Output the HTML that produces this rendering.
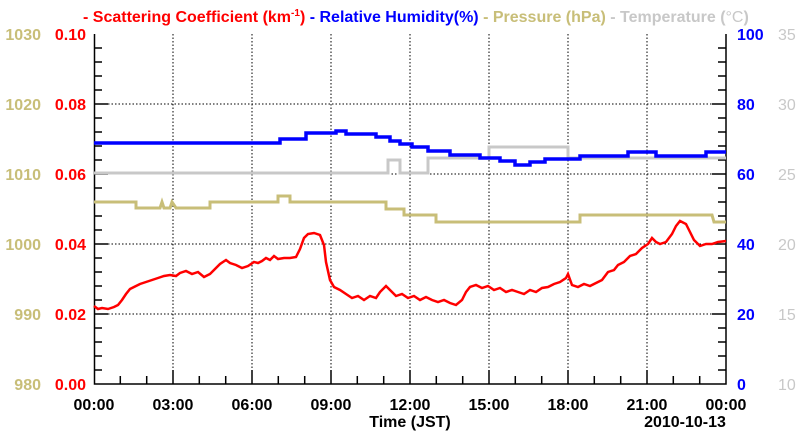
<!DOCTYPE html>
<html><head><meta charset="utf-8"><style>
html,body{margin:0;padding:0;background:#fff;}
svg{display:block;font-family:"Liberation Sans",sans-serif;font-weight:bold;}
</style></head><body>
<svg width="800" height="434" viewBox="0 0 800 434">
<g stroke="#000" stroke-width="1" stroke-dasharray="1.5,2">
<line x1="173" y1="34" x2="173" y2="384"/><line x1="252" y1="34" x2="252" y2="384"/><line x1="331" y1="34" x2="331" y2="384"/><line x1="410" y1="34" x2="410" y2="384"/><line x1="489" y1="34" x2="489" y2="384"/><line x1="568" y1="34" x2="568" y2="384"/><line x1="647" y1="34" x2="647" y2="384"/>
<line x1="94" y1="104" x2="726" y2="104"/><line x1="94" y1="174" x2="726" y2="174"/><line x1="94" y1="244" x2="726" y2="244"/><line x1="94" y1="314" x2="726" y2="314"/>
</g>
<g stroke="#000" stroke-width="1.5" fill="none">
<path d="M94.5,34 V384 H726 V34"/>
<path d="M94,48h8M94,62h8M94,76h8M94,90h8M94,104h14M94,118h8M94,132h8M94,146h8M94,160h8M94,174h14M94,188h8M94,202h8M94,216h8M94,230h8M94,244h14M94,258h8M94,272h8M94,286h8M94,300h8M94,314h14M94,328h8M94,342h8M94,356h8M94,370h8"/>
<path d="M726,48h-8M726,62h-8M726,76h-8M726,90h-8M726,104h-14M726,118h-8M726,132h-8M726,146h-8M726,160h-8M726,174h-14M726,188h-8M726,202h-8M726,216h-8M726,230h-8M726,244h-14M726,258h-8M726,272h-8M726,286h-8M726,300h-8M726,314h-14M726,328h-8M726,342h-8M726,356h-8M726,370h-8"/>
<path d="M120.3,384v-8M146.7,384v-8M173,384v-14M199.3,384v-8M225.7,384v-8M252,384v-14M278.3,384v-8M304.7,384v-8M331,384v-14M357.3,384v-8M383.7,384v-8M410,384v-14M436.3,384v-8M462.7,384v-8M489,384v-14M515.3,384v-8M541.7,384v-8M568,384v-14M594.3,384v-8M620.7,384v-8M647,384v-14M673.3,384v-8M699.7,384v-8"/>
</g>
<polyline fill="none" stroke="#c8c8c8" stroke-width="3" points="94,173 388,173 388,160 400,160 400,173 428,173 428,158 489,158 489,147 568,147 568,158 726,158"/>
<polyline fill="none" stroke="#c8be78" stroke-width="3" points="94,202 136,202 136,208 160,208 162,202 164,208 170,208 172,202 176,208 210,208 210,202 278,202 278,196 290,196 290,202 386,202 386,209 404,209 404,215 436,215 436,222 580,222 580,215 712,215 714,222 726,222"/>
<polyline fill="none" stroke="#0000ff" stroke-width="3.5" points="94,143 280,143 280,139 306,139 306,133 336,133 336,131 346,131 346,134 376,134 376,137 390,137 390,141 400,141 400,144 412,144 412,147 428,147 428,151 450,151 450,155 480,155 480,158 500,158 500,161 515,161 515,165 530,165 530,162 545,162 545,159 580,159 580,156 628,156 628,152 656,152 656,156 706,156 706,152 726,152"/>
<polyline fill="none" stroke="#ff0000" stroke-width="2.5" points="94,306 98,309 102,308 108,309 114,307 118,305 122,300 126,294 130,289 134,287 140,284 146,282 152,280 158,278 164,276 170,275 176,276 180,273 186,271 192,274 198,272 204,277 210,274 214,270 220,264 226,260 230,263 236,265 242,268 248,266 254,262 258,263 262,261 266,258 270,260 274,256 278,259 284,258 290,258 296,257 300,249 304,238 308,234 314,233 320,235 324,245 326,262 330,280 334,287 340,290 346,294 352,298 358,296 364,300 370,296 376,298 380,292 386,286 390,290 396,296 402,294 408,298 414,296 420,300 426,297 432,300 438,302 444,300 450,303 456,305 462,300 466,292 470,287 476,285 482,288 488,286 494,290 500,288 506,292 512,290 518,292 524,294 530,290 536,292 542,288 548,287 554,284 560,282 566,278 568,274 572,285 578,287 584,284 590,286 596,283 602,280 608,272 614,270 618,265 624,262 630,256 636,254 642,248 648,244 652,238 656,242 660,244 666,242 672,234 676,226 680,221 686,224 690,232 694,240 700,246 706,244 712,244 718,242 726,241"/>
<g font-size="16" text-anchor="end">
<g fill="#c8be78"><text x="41" y="40">1030</text><text x="41" y="110">1020</text><text x="41" y="180">1010</text><text x="41" y="250">1000</text><text x="41" y="320">990</text><text x="41" y="390">980</text></g>
<g fill="#ff0000"><text x="86" y="40">0.10</text><text x="86" y="110">0.08</text><text x="86" y="180">0.06</text><text x="86" y="250">0.04</text><text x="86" y="320">0.02</text><text x="86" y="390">0.00</text></g>
</g>
<g font-size="16" fill="#0000ff"><text x="737" y="40">100</text><text x="737" y="110">80</text><text x="737" y="180">60</text><text x="737" y="250">40</text><text x="737" y="320">20</text><text x="737" y="390">0</text></g>
<g font-size="16" fill="#c8c8c8" font-weight="normal"><text x="778" y="40">35</text><text x="778" y="110">30</text><text x="778" y="180">25</text><text x="778" y="250">20</text><text x="778" y="320">15</text><text x="778" y="390">10</text></g>
<g font-size="16" text-anchor="middle" fill="#000">
<text x="94" y="410">00:00</text><text x="173" y="410">03:00</text><text x="252" y="410">06:00</text><text x="331" y="410">09:00</text><text x="410" y="410">12:00</text><text x="489" y="410">15:00</text><text x="568" y="410">18:00</text><text x="647" y="410">21:00</text><text x="726" y="410">00:00</text>
<text x="410" y="427">Time (JST)</text><text x="685" y="427">2010-10-13</text>
</g>
<text x="83" y="22" font-size="16"><tspan fill="#ff0000">- Scattering Coefficient (km<tspan font-size="10" dy="-6">-1</tspan><tspan dy="6">) </tspan></tspan><tspan fill="#0000ff">- Relative Humidity(%) </tspan><tspan fill="#c8be78">- Pressure (hPa) </tspan><tspan fill="#c8c8c8">- Temperature (</tspan><tspan fill="#c8c8c8" font-weight="normal">°C</tspan><tspan fill="#c8c8c8">)</tspan></text>
</svg>
</body></html>
